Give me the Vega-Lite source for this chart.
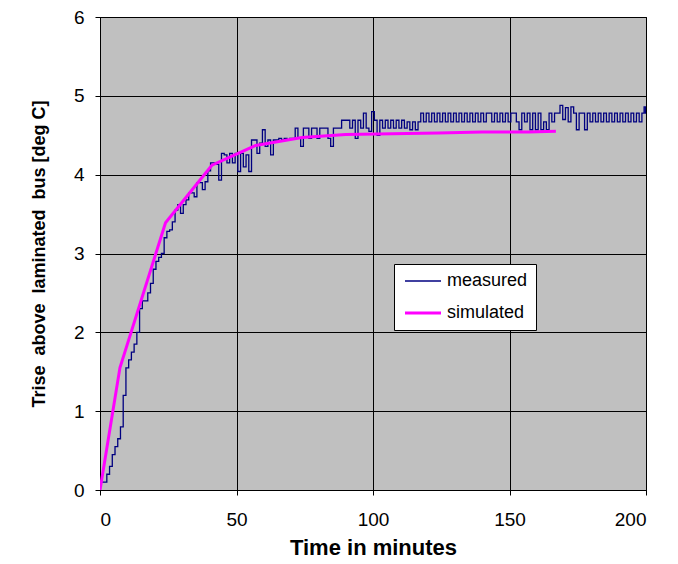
{
  "$schema": "https://vega.github.io/schema/vega-lite/v6.json",
  "width": 546,
  "height": 473,
  "autosize": "none",
  "padding": {"left": 100, "top": 17, "right": 32, "bottom": 74},
  "background": "white",
  "config": {
    "font": "Liberation Sans",
    "view": {"fill": "#c0c0c0", "stroke": "black", "strokeWidth": 1},
    "axis": {
      "domainColor": "black", "domainWidth": 1,
      "tickColor": "black", "tickSize": 5, "tickWidth": 1,
      "grid": true, "gridColor": "black", "gridOpacity": 1, "gridWidth": 1,
      "labelColor": "black", "labelFontSize": 19, "labelFont": "Liberation Sans",
      "titleColor": "black", "titleFont": "Liberation Sans", "titleFontWeight": "bold"
    },
    "axisX": {"labelPadding": 15, "titlePadding": 8, "titleFontSize": 22},
    "axisY": {"labelPadding": 11, "titlePadding": 25, "titleFontSize": 18},
    "legend": {
      "orient": "none", "legendX": 294, "legendY": 247,
      "fillColor": "white", "strokeColor": "black", "padding": 8,
      "labelFontSize": 18, "labelColor": "black", "labelFont": "Liberation Sans",
      "symbolType": "M-3,0H3", "symbolSize": 144, "symbolOffset": 12, "labelOffset": 15,
      "rowPadding": 14, "title": null
    }
  },
  "data": {
    "values": [
      {"s":"measured","t":0,"y":0.10},{"s":"measured","t":1,"y":0.10},{"s":"measured","t":2,"y":0.10},{"s":"measured","t":3,"y":0.20},
      {"s":"measured","t":4,"y":0.30},{"s":"measured","t":5,"y":0.45},{"s":"measured","t":6,"y":0.55},{"s":"measured","t":7,"y":0.65},
      {"s":"measured","t":8,"y":0.80},{"s":"measured","t":9,"y":1.20},{"s":"measured","t":10,"y":1.55},{"s":"measured","t":11,"y":1.65},
      {"s":"measured","t":12,"y":1.75},{"s":"measured","t":13,"y":1.85},{"s":"measured","t":14,"y":2.00},{"s":"measured","t":15,"y":2.30},
      {"s":"measured","t":16,"y":2.40},{"s":"measured","t":17,"y":2.40},{"s":"measured","t":18,"y":2.50},{"s":"measured","t":19,"y":2.62},
      {"s":"measured","t":20,"y":2.80},{"s":"measured","t":21,"y":2.90},{"s":"measured","t":22,"y":2.95},{"s":"measured","t":23,"y":3.00},
      {"s":"measured","t":24,"y":3.20},{"s":"measured","t":25,"y":3.28},{"s":"measured","t":26,"y":3.30},{"s":"measured","t":27,"y":3.40},
      {"s":"measured","t":28,"y":3.55},{"s":"measured","t":29,"y":3.62},{"s":"measured","t":30,"y":3.51},{"s":"measured","t":31,"y":3.62},
      {"s":"measured","t":32,"y":3.68},{"s":"measured","t":33,"y":3.77},{"s":"measured","t":34,"y":3.77},{"s":"measured","t":35,"y":3.72},
      {"s":"measured","t":36,"y":3.90},{"s":"measured","t":37,"y":3.90},{"s":"measured","t":38,"y":3.81},{"s":"measured","t":39,"y":3.91},
      {"s":"measured","t":40,"y":4.05},{"s":"measured","t":41,"y":4.15},{"s":"measured","t":42,"y":4.15},{"s":"measured","t":43,"y":4.13},
      {"s":"measured","t":44,"y":3.93},{"s":"measured","t":45,"y":4.27},{"s":"measured","t":46,"y":4.25},{"s":"measured","t":47,"y":4.15},
      {"s":"measured","t":48,"y":4.27},{"s":"measured","t":49,"y":4.15},{"s":"measured","t":50,"y":4.27},{"s":"measured","t":51,"y":4.04},
      {"s":"measured","t":52,"y":4.27},{"s":"measured","t":53,"y":4.10},{"s":"measured","t":54,"y":4.25},{"s":"measured","t":55,"y":4.04},
      {"s":"measured","t":56,"y":4.44},{"s":"measured","t":57,"y":4.44},{"s":"measured","t":58,"y":4.27},{"s":"measured","t":59,"y":4.40},
      {"s":"measured","t":60,"y":4.57},{"s":"measured","t":61,"y":4.36},{"s":"measured","t":62,"y":4.44},{"s":"measured","t":63,"y":4.25},
      {"s":"measured","t":64,"y":4.44},{"s":"measured","t":65,"y":4.44},{"s":"measured","t":66,"y":4.46},{"s":"measured","t":67,"y":4.44},
      {"s":"measured","t":68,"y":4.46},{"s":"measured","t":69,"y":4.44},{"s":"measured","t":70,"y":4.46},{"s":"measured","t":71,"y":4.46},
      {"s":"measured","t":72,"y":4.59},{"s":"measured","t":73,"y":4.46},{"s":"measured","t":74,"y":4.36},{"s":"measured","t":75,"y":4.59},
      {"s":"measured","t":76,"y":4.59},{"s":"measured","t":77,"y":4.46},{"s":"measured","t":78,"y":4.59},{"s":"measured","t":79,"y":4.59},
      {"s":"measured","t":80,"y":4.46},{"s":"measured","t":81,"y":4.59},{"s":"measured","t":82,"y":4.59},{"s":"measured","t":83,"y":4.59},
      {"s":"measured","t":84,"y":4.46},{"s":"measured","t":85,"y":4.36},{"s":"measured","t":86,"y":4.59},{"s":"measured","t":87,"y":4.59},
      {"s":"measured","t":88,"y":4.59},{"s":"measured","t":89,"y":4.69},{"s":"measured","t":90,"y":4.69},{"s":"measured","t":91,"y":4.69},
      {"s":"measured","t":92,"y":4.59},{"s":"measured","t":93,"y":4.69},{"s":"measured","t":94,"y":4.46},{"s":"measured","t":95,"y":4.69},
      {"s":"measured","t":96,"y":4.59},{"s":"measured","t":97,"y":4.78},{"s":"measured","t":98,"y":4.59},{"s":"measured","t":99,"y":4.55},
      {"s":"measured","t":100,"y":4.80},{"s":"measured","t":101,"y":4.69},{"s":"measured","t":102,"y":4.50},{"s":"measured","t":103,"y":4.69},
      {"s":"measured","t":104,"y":4.59},{"s":"measured","t":105,"y":4.69},{"s":"measured","t":106,"y":4.59},{"s":"measured","t":107,"y":4.69},
      {"s":"measured","t":108,"y":4.59},{"s":"measured","t":109,"y":4.69},{"s":"measured","t":110,"y":4.59},{"s":"measured","t":111,"y":4.69},
      {"s":"measured","t":112,"y":4.59},{"s":"measured","t":113,"y":4.67},{"s":"measured","t":114,"y":4.57},{"s":"measured","t":115,"y":4.67},
      {"s":"measured","t":116,"y":4.57},{"s":"measured","t":117,"y":4.67},{"s":"measured","t":118,"y":4.78},{"s":"measured","t":119,"y":4.67},
      {"s":"measured","t":120,"y":4.78},{"s":"measured","t":121,"y":4.67},{"s":"measured","t":122,"y":4.78},{"s":"measured","t":123,"y":4.67},
      {"s":"measured","t":124,"y":4.78},{"s":"measured","t":125,"y":4.67},{"s":"measured","t":126,"y":4.78},{"s":"measured","t":127,"y":4.67},
      {"s":"measured","t":128,"y":4.78},{"s":"measured","t":129,"y":4.67},{"s":"measured","t":130,"y":4.78},{"s":"measured","t":131,"y":4.67},
      {"s":"measured","t":132,"y":4.78},{"s":"measured","t":133,"y":4.67},{"s":"measured","t":134,"y":4.78},{"s":"measured","t":135,"y":4.67},
      {"s":"measured","t":136,"y":4.78},{"s":"measured","t":137,"y":4.67},{"s":"measured","t":138,"y":4.78},{"s":"measured","t":139,"y":4.67},
      {"s":"measured","t":140,"y":4.78},{"s":"measured","t":141,"y":4.67},{"s":"measured","t":142,"y":4.78},{"s":"measured","t":143,"y":4.78},
      {"s":"measured","t":144,"y":4.67},{"s":"measured","t":145,"y":4.78},{"s":"measured","t":146,"y":4.67},{"s":"measured","t":147,"y":4.78},
      {"s":"measured","t":148,"y":4.67},{"s":"measured","t":149,"y":4.78},{"s":"measured","t":150,"y":4.67},{"s":"measured","t":151,"y":4.78},
      {"s":"measured","t":152,"y":4.78},{"s":"measured","t":153,"y":4.67},{"s":"measured","t":154,"y":4.57},{"s":"measured","t":155,"y":4.78},
      {"s":"measured","t":156,"y":4.67},{"s":"measured","t":157,"y":4.78},{"s":"measured","t":158,"y":4.57},{"s":"measured","t":159,"y":4.78},
      {"s":"measured","t":160,"y":4.57},{"s":"measured","t":161,"y":4.78},{"s":"measured","t":162,"y":4.57},{"s":"measured","t":163,"y":4.67},
      {"s":"measured","t":164,"y":4.57},{"s":"measured","t":165,"y":4.78},{"s":"measured","t":166,"y":4.67},{"s":"measured","t":167,"y":4.78},
      {"s":"measured","t":168,"y":4.78},{"s":"measured","t":169,"y":4.88},{"s":"measured","t":170,"y":4.70},{"s":"measured","t":171,"y":4.85},
      {"s":"measured","t":172,"y":4.67},{"s":"measured","t":173,"y":4.86},{"s":"measured","t":174,"y":4.78},{"s":"measured","t":175,"y":4.57},
      {"s":"measured","t":176,"y":4.78},{"s":"measured","t":177,"y":4.78},{"s":"measured","t":178,"y":4.57},{"s":"measured","t":179,"y":4.78},
      {"s":"measured","t":180,"y":4.67},{"s":"measured","t":181,"y":4.78},{"s":"measured","t":182,"y":4.67},{"s":"measured","t":183,"y":4.78},
      {"s":"measured","t":184,"y":4.67},{"s":"measured","t":185,"y":4.78},{"s":"measured","t":186,"y":4.67},{"s":"measured","t":187,"y":4.78},
      {"s":"measured","t":188,"y":4.67},{"s":"measured","t":189,"y":4.78},{"s":"measured","t":190,"y":4.67},{"s":"measured","t":191,"y":4.78},
      {"s":"measured","t":192,"y":4.67},{"s":"measured","t":193,"y":4.78},{"s":"measured","t":194,"y":4.67},{"s":"measured","t":195,"y":4.78},
      {"s":"measured","t":196,"y":4.67},{"s":"measured","t":197,"y":4.78},{"s":"measured","t":198,"y":4.67},{"s":"measured","t":199,"y":4.78},
      {"s":"measured","t":199.6,"y":4.86},{"s":"measured","t":200,"y":4.78},
      {"s":"simulated","t":0,"y":0},{"s":"simulated","t":7.3,"y":1.55},{"s":"simulated","t":24,"y":3.39},{"s":"simulated","t":41,"y":4.12},
      {"s":"simulated","t":57,"y":4.37},{"s":"simulated","t":74,"y":4.47},{"s":"simulated","t":90,"y":4.51},{"s":"simulated","t":107,"y":4.52},
      {"s":"simulated","t":124,"y":4.53},{"s":"simulated","t":140,"y":4.54},{"s":"simulated","t":157,"y":4.54},{"s":"simulated","t":167,"y":4.55}
    ]
  },
  "encoding": {
    "x": {"field": "t", "type": "quantitative", "scale": {"domain": [0, 200], "nice": false},
          "axis": {"values": [0, 50, 100, 150, 200], "title": "Time in minutes"}},
    "y": {"field": "y", "type": "quantitative", "scale": {"domain": [0, 6], "nice": false},
          "axis": {"values": [0, 1, 2, 3, 4, 5, 6], "title": "Trise\u00a0 above\u00a0 laminated\u00a0 bus [deg C]"}},
    "color": {"field": "s", "type": "nominal",
              "scale": {"domain": ["measured", "simulated"], "range": ["#000080", "#ff00ff"]}},
    "strokeWidth": {"field": "s", "type": "nominal",
              "scale": {"domain": ["measured", "simulated"], "range": [1.3, 3]}},
    "order": {"field": "t", "type": "quantitative"}
  },
  "layer": [
    {"transform": [{"filter": "datum.s === 'measured'"}],
     "mark": {"type": "line", "clip": true, "interpolate": "step"}},
    {"transform": [{"filter": "datum.s === 'simulated'"}],
     "mark": {"type": "line", "clip": true}}
  ]
}
